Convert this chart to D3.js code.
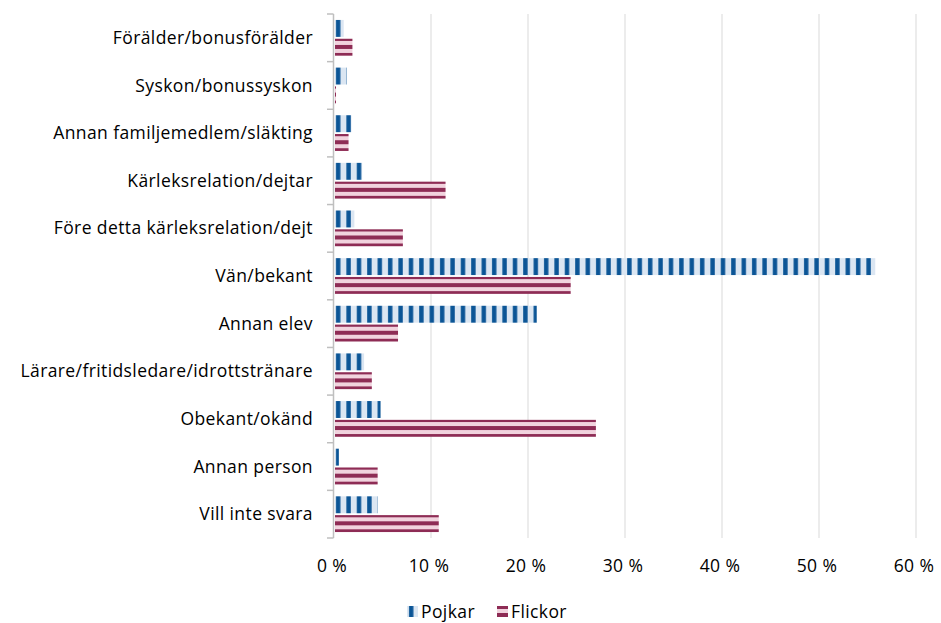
<!DOCTYPE html>
<html>
<head>
<meta charset="utf-8">
<script src="https://cdn.jsdelivr.net/npm/d3@7"></script>
<style>
  body { margin: 0; background: #fff; }
  svg text { font-family: 'Open Sans', sans-serif; fill: #000; font-size: 17.5px; letter-spacing: 0.4px; }
</style>
</head>
<body>
<script>
// categories and values (percent)
const categories = [
  'Förälder/bonusförälder',
  'Syskon/bonussyskon',
  'Annan familjemedlem/släkting',
  'Kärleksrelation/dejtar',
  'Före detta kärleksrelation/dejt',
  'Vän/bekant',
  'Annan elev',
  'Lärare/fritidsledare/idrottstränare',
  'Obekant/okänd',
  'Annan person',
  'Vill inte svara'
];
const pojkar = [1.0, 1.3, 1.8, 2.9, 2.1, 55.8, 20.9, 3.1, 4.8, 0.5, 4.5];
const flickor = [1.9, 0.2, 1.5, 11.5, 7.1, 24.4, 6.6, 3.9, 27.0, 4.5, 10.8];
const seriesNames = ['Pojkar', 'Flickor'];
const xTicks = [0, 10, 20, 30, 40, 50, 60];

const width = 941, height = 623;
const margin = { top: 14, right: 25, bottom: 86, left: 334 };

const svg = d3.select('body').append('svg')
  .attr('width', width)
  .attr('height', height);

// stripe patterns
const defs = svg.append('defs');
const pb = defs.append('pattern')
  .attr('id', 'pat-pojkar')
  .attr('patternUnits', 'userSpaceOnUse')
  .attr('width', 10.4).attr('height', 10);
pb.append('rect').attr('width', 10.4).attr('height', 10).attr('fill', '#dbe6f2');
pb.append('rect').attr('x', 2).attr('width', 4.4).attr('height', 10).attr('fill', '#0b5596');

const pf = defs.append('pattern')
  .attr('id', 'pat-flickor')
  .attr('patternUnits', 'userSpaceOnUse')
  .attr('width', 10).attr('height', 8);
pf.append('rect').attr('width', 10).attr('height', 8).attr('fill', '#f1d3de');
pf.append('rect').attr('y', 1).attr('width', 10).attr('height', 4).attr('fill', '#8e2c55');

const g = svg.append('g')
  .attr('transform', 'translate(' + margin.left + ',' + margin.top + ')');

const x = d3.scaleLinear().domain([0, 60]).range([0, 582]);
const y = d3.scaleBand().domain(categories).range([0, 524]).paddingInner(0.25).paddingOuter(0.125);
const ySub = d3.scaleBand().domain(seriesNames).range([0, y.bandwidth()]).paddingInner(0.1);

// gridlines
g.selectAll('.grid')
  .data(xTicks.slice(1))
  .enter().append('line')
  .attr('x1', (d) => x(d)).attr('x2', (d) => x(d))
  .attr('y1', 0).attr('y2', 524)
  .attr('stroke', '#d9d9d9').attr('stroke-width', 1);

// x tick labels
g.selectAll('.xlab')
  .data(xTicks)
  .enter().append('text')
  .attr('x', (d) => x(d) - 2)
  .attr('y', 558)
  .attr('text-anchor', 'middle')
  .text((d) => d + ' %');

const rows = categories.map((c, i) => ({ cat: c, Pojkar: pojkar[i], Flickor: flickor[i] }));

const rowG = g.selectAll('.row')
  .data(rows)
  .enter().append('g')
  .attr('transform', (d) => 'translate(0,' + y(d.cat) + ')');

rowG.selectAll('rect')
  .data((d) => seriesNames.map((s) => ({ s: s, v: d[s] })))
  .enter().append('rect')
  .attr('x', 1)
  .attr('y', (d) => ySub(d.s))
  .attr('width', (d) => Math.max(x(d.v) - 1, 1))
  .attr('height', ySub.bandwidth())
  .attr('fill', (d) => d.s === 'Pojkar' ? 'url(#pat-pojkar)' : 'url(#pat-flickor)');

// y axis line + ticks at band boundaries
const boundaries = d3.range(categories.length + 1).map((i) => i * 524 / categories.length);
g.append('line')
  .attr('x1', -0.5).attr('x2', -0.5).attr('y1', 0).attr('y2', 524)
  .attr('stroke', '#bfbfbf').attr('stroke-width', 1.5);
g.selectAll('.ytick')
  .data(boundaries)
  .enter().append('line')
  .attr('x1', -7).attr('x2', -0.5)
  .attr('y1', (d) => d).attr('y2', (d) => d)
  .attr('stroke', '#bfbfbf').attr('stroke-width', 1.5);

// category labels
g.selectAll('.ylab')
  .data(categories)
  .enter().append('text')
  .attr('x', -21)
  .attr('y', (d) => y(d) + y.bandwidth() / 2)
  .attr('dy', '0.35em')
  .attr('text-anchor', 'end')
  .text((d) => d);

// legend
const legend = svg.append('g').attr('transform', 'translate(407,612)');
const items = [
  { name: 'Pojkar', fill: 'url(#pat-pojkar)', x: 0 },
  { name: 'Flickor', fill: 'url(#pat-flickor)', x: 90 }
];
const li = legend.selectAll('g').data(items).enter().append('g')
  .attr('transform', (d) => 'translate(' + d.x + ',0)');
li.append('rect').attr('x', 0).attr('y', -6).attr('width', 11).attr('height', 11)
  .attr('fill', (d) => d.fill);
li.append('text').attr('x', 14).attr('y', 0).attr('dy', '0.35em')
  .text((d) => d.name);
</script>
</body>
</html>
